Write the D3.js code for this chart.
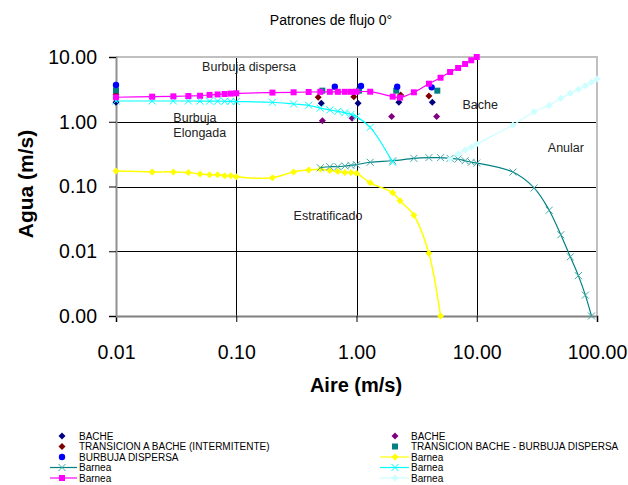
<!DOCTYPE html>
<html><head><meta charset="utf-8">
<script src="https://cdn.jsdelivr.net/npm/d3@7"></script>
<style>body{margin:0;background:#fff}svg{display:block;font-family:"Liberation Sans",Arial,sans-serif}</style>
</head><body><svg id="c" width="628" height="485"></svg>
<script>
// ---- data ----
const xTicks = [0.01, 0.1, 1, 10, 100];
const xTickLabels = ["0.01", "0.10", "1.00", "10.00", "100.00"];
const yTicks = [10, 1, 0.1, 0.01, 0.001];
const yTickLabels = ["10.00", "1.00", "0.10", "0.01", "0.00"];

const bacheNavyX = [0.01, 0.51, 1.03, 2.25, 4.27];
const bacheNavyY = [2.0, 1.93, 1.93, 2.0, 2.0];
const transBacheX = [0.01, 0.48, 0.95, 2.33, 4.0];
const transBacheY = [2.65, 2.39, 2.44, 2.59, 2.5];
const burbujaX = [0.01, 0.66, 1.09, 2.18, 4.22];
const burbujaY = [3.7, 3.47, 3.57, 3.47, 3.4];
const bachePurpleX = [0.52, 0.92, 1.96, 4.64];
const bachePurpleY = [1.04, 1.13, 1.2, 1.2];
const transBurbX = [0.01, 0.52, 1.05, 2.14, 4.7];
const transBurbY = [3.06, 3.02, 3.02, 3.02, 3.02];

const magentaX = [0.01,0.02,0.03,0.04,0.05,0.06,0.07,0.08,0.09,0.1,0.2,0.3,0.4,0.5,0.6,0.7,0.8,0.9,1.0,1.3,2.0,2.3,3,4,5,6,7,8,9,10];
const magentaY = [2.39,2.44,2.47,2.5,2.52,2.6,2.64,2.68,2.72,2.75,2.82,2.85,2.88,2.9,2.9,2.9,2.9,2.9,2.91,2.91,2.44,2.36,2.85,3.87,4.79,5.87,6.76,7.8,8.9,10];
const cyanX = [0.01,0.02,0.03,0.04,0.05,0.06,0.07,0.08,0.09,0.1,0.2,0.3,0.4,0.5,0.6,0.7,0.8,0.9,1.0,1.3,2.0];
const cyanY = [2.09,2.09,2.09,2.09,2.08,2.08,2.08,2.07,2.06,2.05,2.0,1.88,1.8,1.62,1.52,1.45,1.38,1.3,1.2,0.82,0.237];
const tealX = [0.5,0.6,0.7,0.8,0.9,1.0,1.3,2.0,3,4,5,6,7,8,9,10,20,30,40,50,60,70,80,90];
const tealY = [0.195,0.202,0.202,0.207,0.212,0.217,0.237,0.25,0.272,0.279,0.279,0.272,0.266,0.25,0.237,0.23,0.167,0.095,0.043,0.018,0.0082,0.0042,0.0021,0.001];
const yellowX = [0.01,0.02,0.03,0.04,0.05,0.06,0.07,0.08,0.09,0.1,0.2,0.3,0.4,0.5,0.6,0.7,0.8,0.9,1.0,1.3,2.0,2.3,3,4,5];
const yellowY = [0.173,0.168,0.168,0.164,0.156,0.152,0.152,0.147,0.147,0.141,0.137,0.168,0.18,0.185,0.176,0.17,0.165,0.165,0.16,0.114,0.080,0.06,0.036,0.0093,0.001];
const lightX = [6,7,8,9,10,20,30,40,50,60,70,80,90,100];
const lightY = [0.266,0.318,0.366,0.403,0.453,0.89,1.43,1.79,2.3,2.75,3.17,3.6,4.06,4.57];

const zones = [
  {t:"Burbuja dispersa", x:0.052, y:6.1},
  {t:"Burbuja", x:0.03, y:0.99},
  {t:"Elongada", x:0.03, y:0.59},
  {t:"Bache", x:7.6, y:1.57},
  {t:"Anular", x:39, y:0.345},
  {t:"Estratificado", x:0.30, y:0.030}
];

// ---- chart ----
const svg = d3.select("#c");
const L = 116, R = 597, T = 57, B = 316;
const x = d3.scaleLog().domain([0.01, 100]).range([L, R]);
const y = d3.scaleLog().domain([0.001, 10]).range([B, T]);

svg.append("text").attr("x", 331).attr("y", 25).attr("text-anchor", "middle")
  .attr("font-size", 14).attr("fill", "#000").text("Patrones de flujo 0°");

// gridlines
const gx = svg.append("g").attr("transform", `translate(0,${B})`)
  .call(d3.axisBottom(x).tickValues(xTicks).tickSize(-(B - T) ).tickFormat(""));
gx.select(".domain").remove();
gx.selectAll("line").attr("stroke", "#000").attr("shape-rendering", "crispEdges");
const gy = svg.append("g").attr("transform", `translate(${L},0)`)
  .call(d3.axisLeft(y).tickValues(yTicks).tickSize(-(R - L)).tickFormat(""));
gy.select(".domain").remove();
gy.selectAll("line").attr("stroke", "#000").attr("shape-rendering", "crispEdges");

// border
svg.append("path").attr("d", `M${L},${T}H${R}V${B}`).attr("fill", "none")
  .attr("stroke", "#c0c0c0").attr("stroke-width", 2).attr("shape-rendering", "crispEdges");

// axes with outside ticks and labels
const ax = svg.append("g").attr("transform", `translate(0,${B})`)
  .call(d3.axisBottom(x).tickValues(xTicks).tickSize(6).tickPadding(23)
    .tickFormat((d, i) => xTickLabels[i]));
ax.select(".domain").attr("stroke", "#808080").attr("stroke-width", 2);
ax.selectAll("line").attr("stroke", "#000");
ax.selectAll("text").attr("font-size", 19.5).attr("fill", "#000").attr("font-family", "Liberation Sans, Arial, sans-serif");
const ay = svg.append("g").attr("transform", `translate(${L},0)`)
  .call(d3.axisLeft(y).tickValues(yTicks).tickSize(7).tickPadding(12)
    .tickFormat((d, i) => yTickLabels[i]));
ay.select(".domain").attr("stroke", "#909090").attr("stroke-width", 2);
ay.selectAll("line").attr("stroke", "#000");
ay.selectAll("text").attr("font-size", 19.5).attr("fill", "#000").attr("font-family", "Liberation Sans, Arial, sans-serif");

svg.append("text").attr("x", 356).attr("y", 392).attr("text-anchor", "middle")
  .attr("font-size", 20).attr("font-weight", "bold").text("Aire (m/s)");
svg.append("text").attr("transform", "translate(33,184) rotate(-90)").attr("text-anchor", "middle")
  .attr("font-size", 21).attr("font-weight", "bold").text("Agua (m/s)");

// zone labels
svg.append("g").selectAll("text").data(zones).join("text")
  .attr("x", d => x(d.x)).attr("y", d => y(d.y)).attr("font-size", 12.5).attr("fill", "#222")
  .text(d => d.t);

// marker helpers
function diamondPath(s) { return `M0,${-s}L${s},0L0,${s}L${-s},0Z`; }
function drawMarkers(g, xs, ys, kind, color, stroke) {
  const pts = xs.map((v, i) => [x(v), y(ys[i])]);
  const sel = g.append("g").selectAll("path").data(pts).join("path")
    .attr("transform", d => `translate(${d[0]},${d[1]})`);
  if (kind === "diamond") sel.attr("d", diamondPath(3.5)).attr("fill", color);
  if (kind === "square") sel.attr("d", "M-3,-3H3V3H-3Z").attr("fill", color);
  if (kind === "circle") sel.attr("d", d3.symbol().type(d3.symbolCircle).size(32)).attr("fill", color);
  if (kind === "cross") sel.attr("d", "M-3.5,-3.5L3.5,3.5M-3.5,3.5L3.5,-3.5").attr("fill", "none").attr("stroke", stroke || color).attr("stroke-width", 1);
}
const line = d3.line().x(d => x(d[0])).y(d => y(d[1])).curve(d3.curveCatmullRom.alpha(0.5));
function drawLine(g, xs, ys, color, w) {
  g.append("path").datum(xs.map((v, i) => [v, ys[i]])).attr("d", line)
    .attr("fill", "none").attr("stroke", color).attr("stroke-width", w);
}

const plot = svg.append("g");
// scatter series
drawMarkers(plot, bacheNavyX, bacheNavyY, "diamond", "#000080");
drawMarkers(plot, bachePurpleX, bachePurpleY, "diamond", "#800080");
drawMarkers(plot, transBacheX, transBacheY, "diamond", "#800000");
drawMarkers(plot, transBurbX, transBurbY, "square", "#008080");
drawMarkers(plot, burbujaX, burbujaY, "circle", "#0000ff");
// Barnea lines
drawLine(plot, yellowX, yellowY, "#ffff00", 1.5);
drawMarkers(plot, yellowX, yellowY, "diamond", "#ffff00");
drawLine(plot, tealX, tealY, "#008080", 1.2);
drawMarkers(plot, tealX, tealY, "cross", "#008080", "#40a8a8");
drawLine(plot, cyanX, cyanY, "#00ffff", 1.2);
drawMarkers(plot, cyanX, cyanY, "cross", "#00ffff");
drawLine(plot, magentaX, magentaY, "#ff00ff", 1.2);
drawMarkers(plot, magentaX, magentaY, "square", "#ff00ff");
drawLine(plot, lightX, lightY, "#ccffff", 1.2);
drawMarkers(plot, lightX, lightY, "diamond", "#ccffff");

// legend
const legL = [
  {t:"BACHE", k:"diamond", c:"#000080"},
  {t:"TRANSICION A BACHE (INTERMITENTE)", k:"diamond", c:"#800000"},
  {t:"BURBUJA DISPERSA", k:"circle", c:"#0000ff"},
  {t:"Barnea", k:"cross", c:"#008080", line:true, ms:"#40a8a8"},
  {t:"Barnea", k:"square", c:"#ff00ff", line:true}
];
const legR = [
  {t:"BACHE", k:"diamond", c:"#800080"},
  {t:"TRANSICION BACHE - BURBUJA DISPERSA", k:"square", c:"#008080"},
  {t:"Barnea", k:"diamond", c:"#ffff00", line:true},
  {t:"Barnea", k:"cross", c:"#00ffff", line:true},
  {t:"Barnea", k:"diamond", c:"#ccffff", line:true}
];
function legend(items, mx, tx, l0, l1) {
  items.forEach((d, i) => {
    const yy = 436 + i * 10.5;
    const g = svg.append("g");
    if (d.line) g.append("line").attr("x1", l0).attr("x2", l1).attr("y1", yy).attr("y2", yy).attr("stroke", d.c).attr("stroke-width", 1.2);
    const m = g.append("path").attr("transform", `translate(${mx},${yy})`);
    if (d.k === "diamond") m.attr("d", diamondPath(3.5)).attr("fill", d.c);
    if (d.k === "square") m.attr("d", "M-3,-3H3V3H-3Z").attr("fill", d.c);
    if (d.k === "circle") m.attr("d", d3.symbol().type(d3.symbolCircle).size(32)).attr("fill", d.c);
    if (d.k === "cross") m.attr("d", "M-3.5,-3.5L3.5,3.5M-3.5,3.5L3.5,-3.5").attr("fill", "none").attr("stroke", d.ms || d.c);
    g.append("text").attr("x", tx).attr("y", yy + 3.5).attr("font-size", 10).attr("fill", "#000").text(d.t);
  });
}
legend(legL, 62, 79, 50, 77);
legend(legR, 395, 411, 380, 409);
</script></body></html>
